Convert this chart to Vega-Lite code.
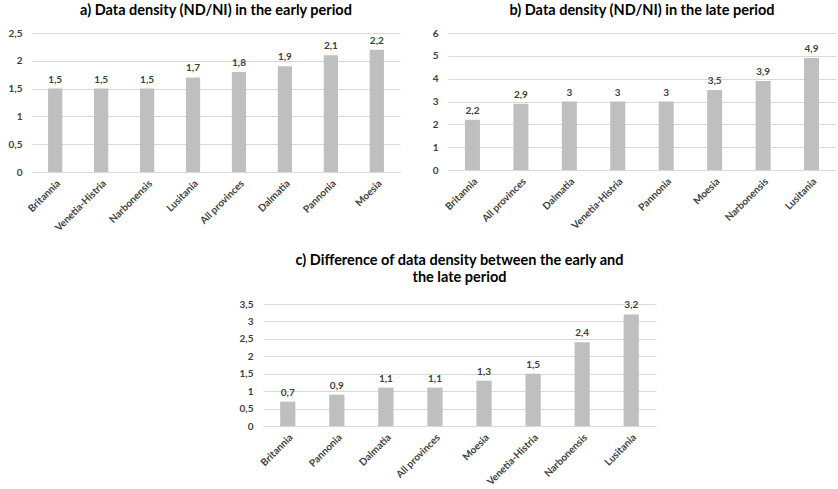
{
  "$schema": "https://vega.github.io/schema/vega-lite/v6.json",
  "background": "white",
  "padding": {"left": 8, "top": 2, "right": 0, "bottom": 0},
  "datasets": {
    "early": [
      {"province": "Britannia", "value": 1.5},
      {"province": "Venetia-Histria", "value": 1.5},
      {"province": "Narbonensis", "value": 1.5},
      {"province": "Lusitania", "value": 1.7},
      {"province": "All provinces", "value": 1.8},
      {"province": "Dalmatia", "value": 1.9},
      {"province": "Pannonia", "value": 2.1},
      {"province": "Moesia", "value": 2.2}
    ],
    "late": [
      {"province": "Britannia", "value": 2.2},
      {"province": "All provinces", "value": 2.9},
      {"province": "Dalmatia", "value": 3},
      {"province": "Venetia-Histria", "value": 3},
      {"province": "Pannonia", "value": 3},
      {"province": "Moesia", "value": 3.5},
      {"province": "Narbonensis", "value": 3.9},
      {"province": "Lusitania", "value": 4.9}
    ],
    "diff": [
      {"province": "Britannia", "value": 0.7},
      {"province": "Pannonia", "value": 0.9},
      {"province": "Dalmatia", "value": 1.1},
      {"province": "All provinces", "value": 1.1},
      {"province": "Moesia", "value": 1.3},
      {"province": "Venetia-Histria", "value": 1.5},
      {"province": "Narbonensis", "value": 2.4},
      {"province": "Lusitania", "value": 3.2}
    ],
    "blank": [{"t": ""}]
  },
  "vconcat": [
    {
      "hconcat": [
        {
          "data": {"name": "early"},
          "title": {"text": "a) Data density (ND/NI) in the early period"},
          "width": 368,
          "height": 139,
          "encoding": {
            "x": {"field": "province", "type": "nominal", "sort": null, "title": null,
                  "scale": {"paddingInner": 0.69, "paddingOuter": 0.35}},
            "y": {"field": "value", "type": "quantitative", "title": null,
                  "scale": {"domain": [0, 2.5]},
                  "axis": {"values": [0, 0.5, 1, 1.5, 2, 2.5], "format": "~g"}}
          },
          "layer": [
            {"mark": {"type": "bar", "color": "#bfbfbf"}},
            {"mark": {"type": "text", "dy": -9, "fontSize": 10, "fontWeight": "bold", "color": "#404040", "font": "Lato"},
             "encoding": {"text": {"field": "value", "type": "quantitative", "format": "~g"}}}
          ]
        },
        {
          "data": {"name": "late"},
          "title": {"text": "b) Data density (ND/NI) in the late period"},
          "width": 388,
          "height": 137,
          "encoding": {
            "x": {"field": "province", "type": "nominal", "sort": null, "title": null,
                  "scale": {"paddingInner": 0.69, "paddingOuter": 0.35}},
            "y": {"field": "value", "type": "quantitative", "title": null,
                  "scale": {"domain": [0, 6]},
                  "axis": {"values": [0, 1, 2, 3, 4, 5, 6], "format": "~g"}}
          },
          "layer": [
            {"mark": {"type": "bar", "color": "#bfbfbf"}},
            {"mark": {"type": "text", "dy": -9, "fontSize": 10, "fontWeight": "bold", "color": "#404040", "font": "Lato"},
             "encoding": {"text": {"field": "value", "type": "quantitative", "format": "~g"}}}
          ]
        }
      ],
      "spacing": 32
    },
    {
      "hconcat": [
        {
          "data": {"name": "blank"},
          "width": 207,
          "height": 10,
          "mark": {"type": "text"},
          "encoding": {"text": {"field": "t", "type": "nominal"}}
        },
        {
          "data": {"name": "diff"},
          "title": {"text": ["c) Difference of data density between the early and", "the late period"], "offset": 14},
          "width": 393,
          "height": 122,
          "encoding": {
            "x": {"field": "province", "type": "nominal", "sort": null, "title": null,
                  "scale": {"paddingInner": 0.69, "paddingOuter": 0.35}},
            "y": {"field": "value", "type": "quantitative", "title": null,
                  "scale": {"domain": [0, 3.5]},
                  "axis": {"values": [0, 0.5, 1, 1.5, 2, 2.5, 3, 3.5], "format": "~g"}}
          },
          "layer": [
            {"mark": {"type": "bar", "color": "#bfbfbf"}},
            {"mark": {"type": "text", "dy": -9, "fontSize": 10, "fontWeight": "bold", "color": "#404040", "font": "Lato"},
             "encoding": {"text": {"field": "value", "type": "quantitative", "format": "~g"}}}
          ]
        }
      ],
      "spacing": 0
    }
  ],
  "spacing": 19,
  "config": {
    "locale": {"number": {"decimal": ",", "thousands": ".", "grouping": [3], "currency": ["", " €"]}},
    "font": "Lato",
    "view": {"stroke": null},
    "title": {"fontSize": 14.5, "fontWeight": "bold", "font": "Lato", "color": "#000000", "anchor": "middle", "offset": 10, "lineHeight": 17},
    "axis": {"labelFont": "Lato", "labelFontWeight": "bold", "labelColor": "#404040", "labelFontSize": 10, "ticks": false, "gridColor": "#d9d9d9", "domainColor": "#d9d9d9"},
    "axisX": {"labelAngle": -45, "grid": false, "domain": true, "labelPadding": 6},
    "axisY": {"domain": false, "grid": true, "labelPadding": 10}
  }
}
